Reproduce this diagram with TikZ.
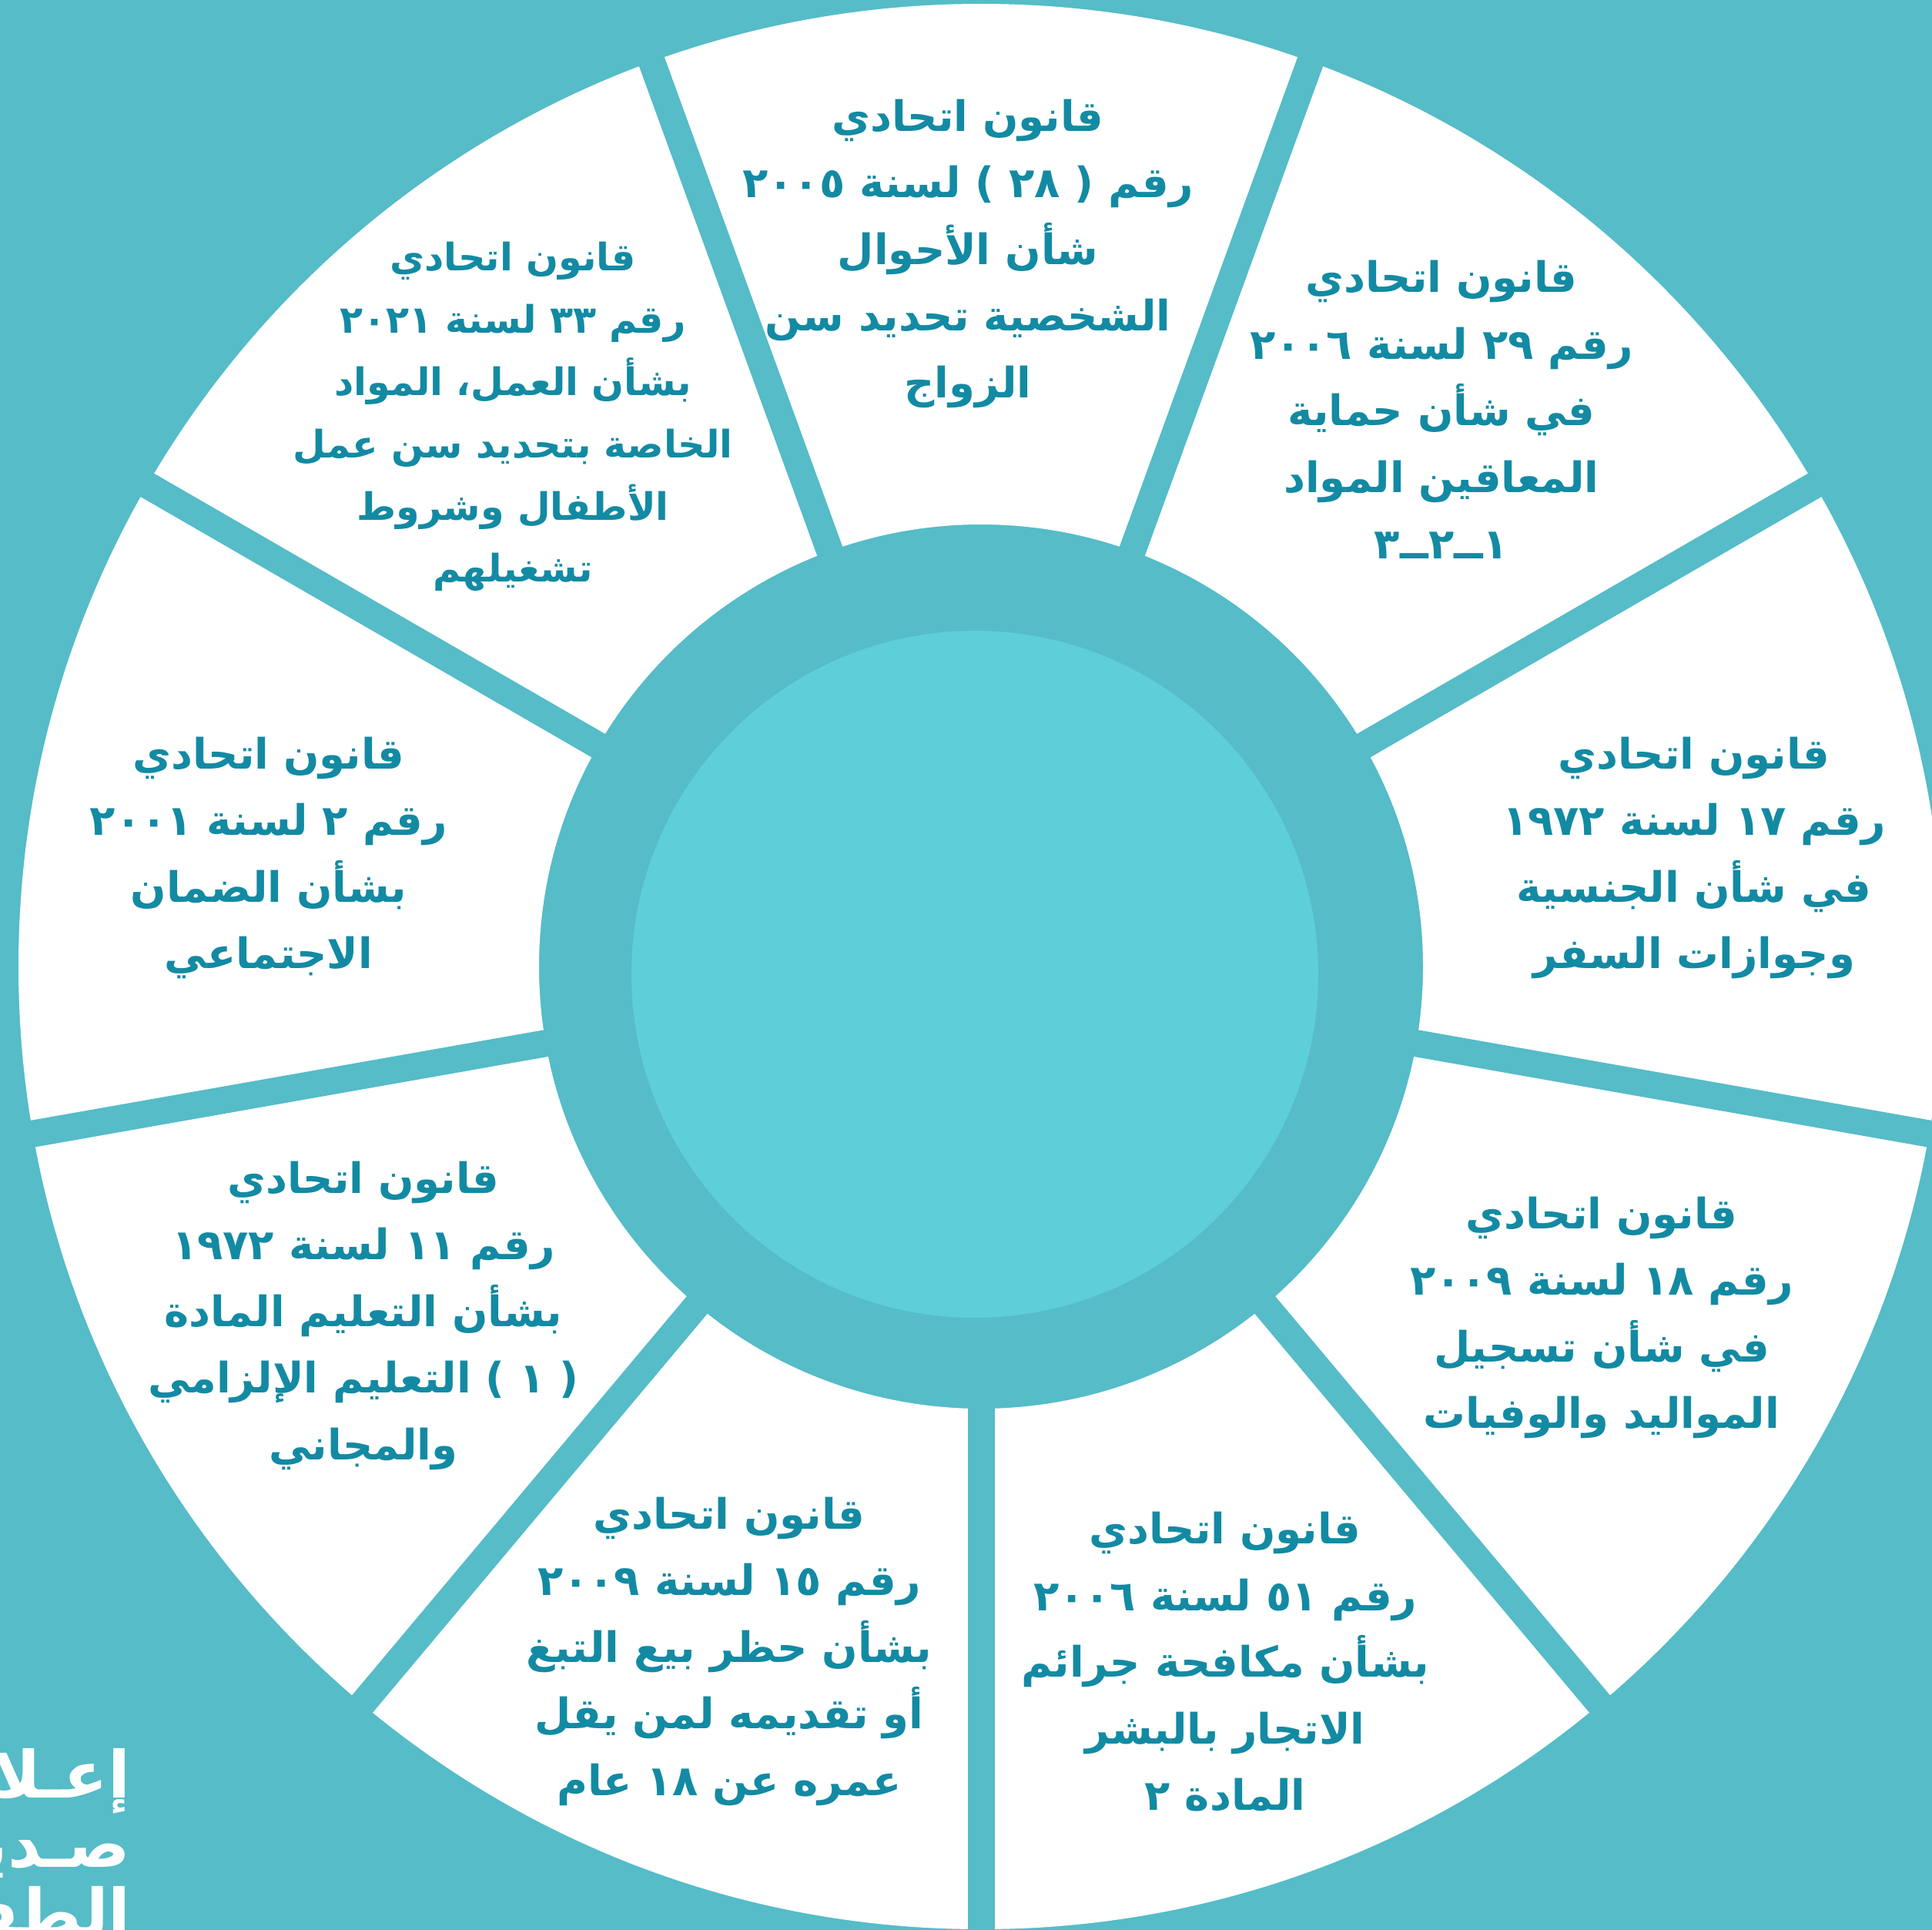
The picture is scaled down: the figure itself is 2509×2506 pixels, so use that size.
\documentclass[tikz,border=0pt]{standalone}
\usepackage{fontspec}
\newfontfamily\arabicfont[Script=Arabic]{DejaVu Sans}
\TeXXeTstate=1
\definecolor{ringteal}{HTML}{55BCC8}
\definecolor{hubcyan}{HTML}{5ECED9}
\definecolor{lawteal}{HTML}{138AA3}
\newcommand{\arline}[1]{\beginR #1\endR}

\begin{document}
\begin{tikzpicture}[x=0.01cm, y=-0.01cm,
  law/.style={text=lawteal, align=center,
    font=\arabicfont\bfseries\fontsize{15.5}{24.6}\selectfont},
  smalllaw/.style={law, font=\arabicfont\bfseries\fontsize{14}{23}\selectfont},
  logo/.style={text=white, align=right,
    font=\arabicfont\bfseries\fontsize{24}{25.5}\selectfont}]
  \useasboundingbox (0,0) rectangle (2509,2506);
  \clip (0,0) rectangle (2509,2506);
  \fill[ringteal] (0,0) rectangle (2509,2506);
  \coordinate (c) at (1274,1255);
  \coordinate (hub) at (1266,1265);

  % white ring cut into nine slices
  \fill[white, even odd rule] (c) circle[radius=1250] (c) circle[radius=574];
  \foreach \a in {10,50,...,330}
    \draw[ringteal, line width=0.35cm] (c) -- ++(\a:1300);
  \fill[hubcyan] (hub) circle[radius=446];

  % law texts, clockwise from the top
  \node[law] (law1) at (1257,329) {\arline{قانون اتحادي}\\
    \arline{رقم ( ٢٨ ) لسنة ٢٠٠٥}\\ \arline{شأن الأحوال}\\
    \arline{الشخصية تحديد سن}\\ \arline{الزواج}};
  \node[law] (law2) at (1872,532) {\arline{قانون اتحادي}\\
    \arline{رقم ٢٩ لسنة ٢٠٠٦}\\ \arline{في شأن حماية}\\
    \arline{المعاقين المواد}\\ \arline{١ــ٢ــ٣}};
  \node[law] (law3) at (2200,1114) {\arline{قانون اتحادي}\\
    \arline{رقم ١٧ لسنة ١٩٧٢}\\ \arline{في شأن الجنسية}\\
    \arline{وجوازات السفر}};
  \node[law] (law4) at (2080,1711) {\arline{قانون اتحادي}\\
    \arline{رقم ١٨ لسنة ٢٠٠٩}\\ \arline{في شأن تسجيل}\\
    \arline{المواليد والوفيات}};
  \node[law] (law5) at (1591,2158) {\arline{قانون اتحادي}\\
    \arline{رقم ٥١ لسنة ٢٠٠٦}\\ \arline{بشأن مكافحة جرائم}\\
    \arline{الاتجار بالبشر}\\ \arline{المادة ٢}};
  \node[law] (law6) at (947,2144) {\arline{قانون اتحادي}\\
    \arline{رقم ١٥ لسنة ٢٠٠٩}\\ \arline{بشأن حظر بيع التبغ}\\
    \arline{أو تقديمه لمن يقل}\\ \arline{عمره عن ١٨ عام}};
  \node[law] (law7) at (472,1708) {\arline{قانون اتحادي}\\
    \arline{رقم ١١ لسنة ١٩٧٢}\\ \arline{بشأن التعليم المادة}\\
    \arline{( ١ ) التعليم الإلزامي}\\ \arline{والمجاني}};
  \node[law] (law8) at (349,1114) {\arline{قانون اتحادي}\\
    \arline{رقم ٢ لسنة ٢٠٠١}\\ \arline{بشأن الضمان}\\
    \arline{الاجتماعي}};
  \node[smalllaw] (law9) at (666,541) {\arline{قانون اتحادي}\\
    \arline{رقم ٣٣ لسنة ٢٠٢١}\\ \arline{بشأن العمل، المواد}\\
    \arline{الخاصة بتحديد سن عمل}\\ \arline{الأطفال وشروط}\\
    \arline{تشغيلهم}};

  % logo, cut by the left edge
  \node[logo, anchor=north east] (logo) at (182,2258) {\arline{إعـلام}\\
    \arline{صـديق}\\ \arline{الطفل}};
\end{tikzpicture}
\end{document}
